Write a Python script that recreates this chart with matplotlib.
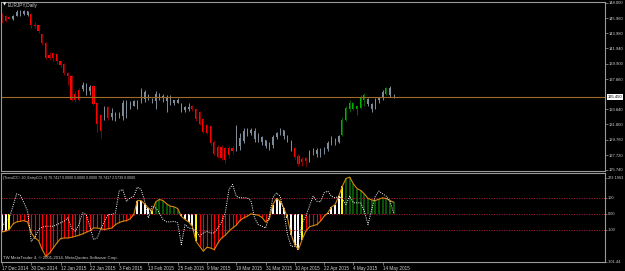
import matplotlib
matplotlib.use("Agg")
import matplotlib.pyplot as plt
import matplotlib.transforms as mtransforms
import numpy as np

# EURJPY daily, 17 Dec 2014 .. 20 May 2015
opens = [146.3, 145.6, 146.1, 145.9, 146.3, 146.8, 146.5, 146.9, 146.5, 145.1,
         145.0, 143.8, 142.7, 141.1, 141.3, 141.2, 140.2, 139.9, 138.7, 138.3,
         135.9, 136.4, 136.5, 137.0, 136.3, 136.9, 134.6, 133.0, 132.6, 134.1,
         133.3, 132.9, 133.2, 132.9, 134.6, 134.0, 134.3, 134.9, 134.9, 136.1,
         135.3, 135.2, 134.9, 135.9, 135.3, 135.5, 134.9, 135.0, 134.6, 134.5,
         133.7, 134.1, 134.3, 133.8, 133.4, 132.5, 131.7, 131.6, 129.5, 128.8,
         128.8, 128.6, 128.6, 128.2, 128.5, 130.0, 129.6, 131.0, 130.6, 130.9,
         129.8, 130.1, 129.7, 128.8, 129.1, 130.1, 130.6, 131.0, 130.2, 129.6,
         128.6, 127.6, 127.2, 126.9, 127.2, 128.1, 128.4, 127.8, 128.3, 128.5,
         129.3, 129.9, 129.4, 130.4, 132.4, 133.8, 134.7, 133.9, 134.0, 135.0,
         135.2, 134.5, 134.0, 135.0, 135.3, 135.9, 136.6, 135.5]
highs = [146.6, 146.4, 146.3, 146.4, 147.0, 147.1, 147.1, 146.9, 146.6, 145.5,
         145.1, 143.9, 142.8, 141.5, 141.5, 141.3, 140.3, 140.0, 138.8, 138.4,
         136.2, 136.6, 137.4, 137.3, 137.1, 137.0, 134.7, 133.1, 134.2, 134.3,
         134.0, 133.5, 133.5, 135.1, 135.1, 134.9, 135.1, 135.1, 136.6, 136.4,
         135.9, 135.3, 136.2, 136.0, 135.9, 135.7, 135.7, 135.1, 135.3, 134.6,
         134.3, 134.6, 134.4, 133.9, 133.6, 132.6, 131.9, 131.7, 129.7, 129.0,
         129.0, 128.8, 128.9, 128.9, 131.7, 130.6, 131.3, 131.3, 131.3, 131.3,
         130.6, 130.2, 129.7, 129.5, 130.4, 130.8, 131.3, 131.1, 130.4, 129.7,
         128.8, 127.9, 127.5, 127.5, 128.4, 128.6, 128.6, 128.6, 128.8, 129.6,
         130.2, 130.0, 130.4, 132.8, 134.2, 135.1, 134.8, 134.3, 135.7, 136.0,
         135.3, 134.6, 135.3, 135.5, 136.4, 136.8, 136.9, 135.9]
lows = [145.3, 145.5, 145.8, 145.7, 146.2, 146.3, 146.4, 146.3, 144.6, 144.6,
        144.0, 142.4, 140.5, 140.4, 140.3, 139.9, 139.4, 138.4, 137.1, 134.9,
        134.8, 134.9, 136.3, 135.7, 135.7, 134.4, 130.8, 130.0, 132.4, 132.4,
        132.4, 132.2, 132.6, 132.4, 132.6, 133.9, 134.2, 133.9, 134.7, 134.8,
        135.1, 134.6, 133.8, 135.1, 134.8, 133.5, 134.4, 134.4, 134.6, 133.4,
        133.5, 133.6, 133.6, 132.3, 131.7, 130.6, 130.5, 129.1, 127.7, 127.3,
        127.1, 126.7, 127.3, 127.9, 128.2, 128.4, 129.3, 130.2, 130.4, 129.5,
        129.5, 129.1, 128.6, 128.4, 128.6, 129.9, 130.4, 129.9, 129.5, 128.2,
        127.2, 126.3, 126.2, 126.2, 126.8, 127.7, 127.5, 127.5, 127.9, 128.2,
        129.1, 129.1, 129.3, 130.2, 132.2, 133.5, 133.7, 133.1, 133.9, 134.2,
        134.2, 133.5, 133.9, 134.6, 135.1, 135.7, 135.5, 135.3]
closes = [145.5, 146.2, 145.9, 146.2, 146.8, 146.5, 146.9, 146.4, 145.1, 144.9,
          144.2, 142.6, 140.7, 140.6, 140.6, 140.3, 139.7, 138.6, 138.2, 135.0,
          135.1, 135.1, 137.1, 136.2, 136.8, 134.5, 131.9, 130.9, 133.9, 132.6,
          132.8, 133.2, 132.9, 134.6, 133.2, 134.6, 134.9, 134.1, 136.2, 135.2,
          135.7, 134.8, 135.9, 135.3, 135.6, 134.9, 135.4, 134.6, 135.1, 133.7,
          134.1, 133.9, 133.8, 132.5, 131.9, 130.8, 130.7, 129.3, 127.9, 127.5,
          127.3, 127.0, 127.7, 128.6, 131.2, 128.9, 130.9, 130.5, 131.0, 129.9,
          130.3, 129.4, 128.9, 129.2, 130.1, 130.6, 131.0, 130.2, 129.7, 128.5,
          127.4, 126.5, 126.8, 127.3, 128.1, 128.4, 127.8, 128.3, 128.5, 129.3,
          129.9, 129.4, 130.2, 132.4, 134.0, 134.7, 133.9, 134.2, 135.5, 135.7,
          134.5, 133.9, 135.0, 135.3, 136.1, 136.6, 135.7, 135.45]
# candle colour state: r = down trend, n = neutral, g = up trend
candle_state = ("rrr" + "n" * 5 + "r" * 14 + "nnn" + "rrr" + "n" + "r" + "n" * 22
                + "r" * 12 + "n" * 16 + "r" * 4 + "n" * 9 + "g" * 7 + "n" * 5
                + "g" + "nn")

trend_cci = [-115, -110, -100, -65, -52, -48, -44, -52, -121, -152,
             -169, -225, -267, -246, -215, -183, -156, -152, -152, -148,
             -142, -135, -127, -117, -106, -90, -90, -94, -100, -94,
             -90, -69, -56, -48, -44, -33, -6, 81, 81, 60,
             35, 15, 73, 88, 81, 60, 46, 42, 31, -17,
             -37, -52, -79, -173, -204, -235, -210, -215, -225, -183,
             -152, -135, -110, -90, -73, -44, -27, -17, -2, -6,
             -10, -23, -52, -37, 56, 94, 77, 35, -27, -131,
             -194, -225, -162, -110, -83, -75, -69, -48, -17, 4,
             40, 56, 108, 171, 219, 227, 185, 156, 144, 123,
             94, 85, 81, 90, 98, 94, 81, 70.7417]
entry_cci = [-79, -52, -27, 46, 123, 115, 67, 15, -173, -148,
             -100, -85, -79, -79, -79, -69, -58, -48, -27, -90,
             -110, -69, 4, -6, -79, -162, -152, -100, -48, -6,
             -6, 4, 140, 150, 77, 98, 108, 165, 150, 77,
             -27, 46, 35, 4, -37, -52, -52, -48, -58, -194,
             -69, -90, -94, -110, -142, -121, -110, -121, -121, -90,
             -52, 4, 150, 181, 108, 98, 98, 98, 81, -27,
             -69, -79, -90, -17, 98, 129, 108, 15, -131, -204,
             -204, -173, -58, -17, 46, 108, 77, 73, 129, 140,
             108, 98, 108, 88, 56, 108, 67, 67, 67, 15,
             -69, 25, 108, 140, 123, 108, 77, 2.5739]
# histogram colour: w = white, y = yellow, r = red, g = green
hist_state = ("wwy" + "r" * 34 + "w" * 4 + "y" + "g" * 7 + "w" * 4 + "y"
              + "r" * 20 + "w" * 8 + "y" + "r" * 6 + "w" * 4 + "y" + "g" * 14)

price_ticks = [148.0, 145.96, 143.98, 141.94, 139.9, 137.86,
               133.84, 131.8, 129.76, 127.72, 125.74]
cci_ticks = [223.1963, 100, 0, -100, -301.44]
cci_tick_labels = ["223.1963", "100", "0.00", "-100", "-301.44"]
cci_levels = [100, 0, -100]

date_idx = [0, 8, 16, 24, 32, 40, 48, 56, 64, 72, 80, 88, 96, 104]
date_labels = ["17 Dec 2014", "30 Dec 2014", "12 Jan 2015", "22 Jan 2015",
               "3 Feb 2015", "13 Feb 2015", "25 Feb 2015", "9 Mar 2015",
               "19 Mar 2015", "31 Mar 2015", "10 Apr 2015", "22 Apr 2015",
               "4 May 2015", "14 May 2015"]

W, H = 625, 271
FONT = ["Liberation Sans", "DejaVu Sans"]
TXT = "#d0d0d0"
FRAME = "#9a9a9a"

fig = plt.figure(figsize=(W / 100, H / 100), dpi=100, facecolor="black")


def px_axes(x0, y0, x1, y1):
    a = fig.add_axes([x0 / W, 1 - y1 / H, (x1 - x0) / W, (y1 - y0) / H])
    a.set_facecolor("black")
    for s in a.spines.values():
        s.set_color(FRAME)
        s.set_linewidth(0.8)
    return a


ax = px_axes(1, 1.5, 605, 170.5)
ax2 = px_axes(1, 172.5, 605, 262)

o = np.array(opens)
hi = np.array(highs)
lo = np.array(lows)
c = np.array(closes)
x = np.arange(len(c))
st = np.array(list(candle_state))

styles = {
    "r": dict(body="#ff0000", wick="#8a0000", width=0.6),
    "n": dict(body="#7f8c99", wick="#7f8c99", width=0.3),
    "g": dict(body="#00b400", wick="#006000", width=0.6),
}
for key, sty in styles.items():
    m = st == key
    ax.vlines(x[m], lo[m], hi[m], colors=sty["wick"], lw=0.7)
    body_h = np.maximum(np.abs(c[m] - o[m]), 0.06)
    ax.bar(x[m], body_h, bottom=np.minimum(o[m], c[m]), width=sty["width"],
           color=sty["body"], lw=0)

ax.axhline(c[-1], color="#a06a28", lw=0.8)

ax.set_xlim(-0.27, 164.75)
ax.set_ylim(125.66, 148.2)
ax.set_xticks([])
ax.yaxis.tick_right()
ax.set_yticks(price_ticks)
ax.set_yticklabels([f"{v:.3f}" for v in price_ticks], family=FONT)
ax.tick_params(axis="y", colors=FRAME, labelcolor=TXT, labelsize=3.0,
               length=1.8, width=0.5, pad=0.8)

trans = mtransforms.blended_transform_factory(ax.transAxes, ax.transData)
ax.text(1.004, c[-1], f"{c[-1]:.3f}", transform=trans, fontsize=3.0,
        family=FONT, color="black", va="center", ha="left",
        bbox=dict(boxstyle="square,pad=0.15", fc="white", ec="none"))

fig.text(2.5 / W, 1 - 5 / H, "\u25bc", fontsize=3, color="white", va="center")
fig.text(8 / W, 1 - 5 / H, "EURJPY,Daily", fontsize=3.4, family=FONT,
         color=TXT, va="center")

# indicator window
hist_colors = {"w": "#ffffff", "y": "#ffff00", "r": "#ff0000", "g": "#0a6e0a"}
hist_widths = {"w": 1.4, "y": 1.4, "r": 0.8, "g": 1.1}
ax2.vlines(x, 0, trend_cci, colors=[hist_colors[k] for k in hist_state],
           linewidths=[hist_widths[k] for k in hist_state])
for lvl in cci_levels:
    ax2.axhline(lvl, color="#b01c3c", lw=0.6, ls=(0, (1.5, 1.5)))
ax2.plot(x, trend_cci, color="#d4880c", lw=0.8)
ax2.plot(x, entry_cci, color="white", lw=0.7, ls=(0, (1, 1.3)))

ax2.set_xlim(-0.27, 164.75)
ax2.set_ylim(-302, 256)
ax2.yaxis.tick_right()
ax2.set_yticks(cci_ticks)
ax2.set_yticklabels(cci_tick_labels, family=FONT)
ax2.tick_params(axis="y", colors=FRAME, labelcolor=TXT, labelsize=2.8,
                length=1.5, width=0.5, pad=0.6)
ax2.set_xticks(date_idx)
ax2.set_xticklabels(date_labels, ha="left", family=FONT)
ax2.tick_params(axis="x", colors=FRAME, labelcolor=TXT, labelsize=3.3,
                length=2, width=0.5, pad=1.2)

fig.text(3 / W, 1 - 178 / H,
         "(TrendCCI: 20, EntryCCI: 6) 70.7417 0.0000 0.0000 0.0000 70.7417 2.5739 0.0000",
         fontsize=2.6, family=FONT, color=TXT, va="center")
fig.text(3 / W, 1 - 258 / H,
         "TW MetaTrader 4, \u00a9 2001-2014, MetaQuotes Software Corp.",
         fontsize=3.1, family=FONT, color=TXT, va="center")

fig.savefig("out.png", dpi=100, facecolor="black")
